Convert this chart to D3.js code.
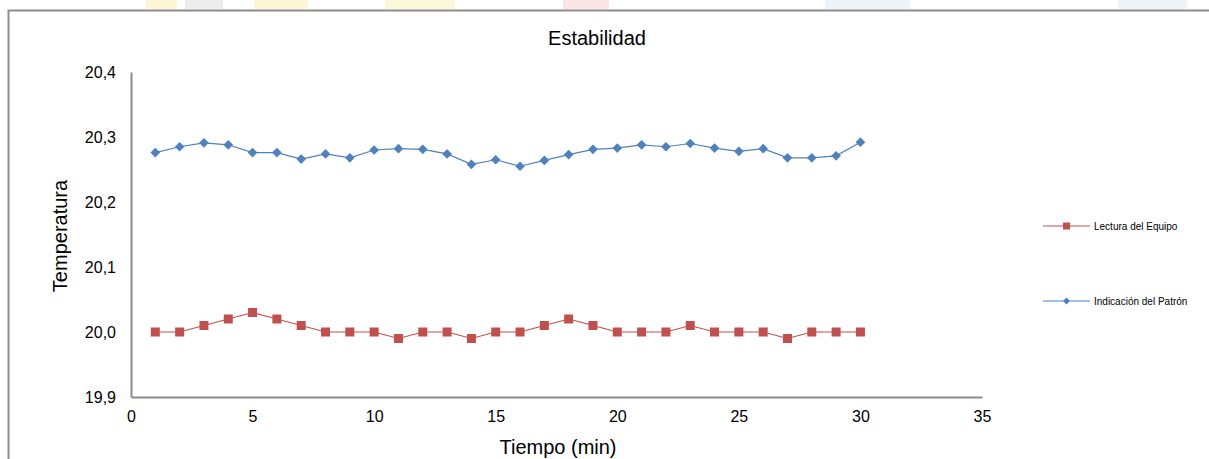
<!DOCTYPE html>
<html>
<head>
<meta charset="utf-8">
<script src="https://cdn.jsdelivr.net/npm/d3@7"></script>
<style>
  body { margin: 0; background: #fff; }
  svg { display: block; font-family: "Liberation Sans", Arial, sans-serif; }
</style>
</head>
<body>
<div id="chart"></div>
<script>
let width = 1209;
let height = 459;
let margin = ({top: 72, right: 227, bottom: 62, left: 131});

// minutes 1..30
let minutes = d3.range(1, 31);
let lectura = [20.00, 20.00, 20.01, 20.02, 20.03, 20.02, 20.01, 20.00, 20.00, 20.00,
               19.99, 20.00, 20.00, 19.99, 20.00, 20.00, 20.01, 20.02, 20.01, 20.00,
               20.00, 20.00, 20.01, 20.00, 20.00, 20.00, 19.99, 20.00, 20.00, 20.00];
let patron = [20.276, 20.285, 20.291, 20.288, 20.276, 20.276, 20.266, 20.274, 20.268, 20.280,
              20.282, 20.281, 20.274, 20.258, 20.265, 20.255, 20.264, 20.273, 20.281, 20.283,
              20.288, 20.285, 20.290, 20.283, 20.278, 20.282, 20.268, 20.268, 20.271, 20.292];
let xTicks = [0, 5, 10, 15, 20, 25, 30, 35];
let yTicks = [19.9, 20.0, 20.1, 20.2, 20.3, 20.4];
let seriesNames = ["Lectura del Equipo", "Indicación del Patrón"];

let red = "#C0504D";
let blue = "#4F81BD";

let svg = d3.select("#chart").append("svg")
  .attr("width", width)
  .attr("height", height);

// faint background watermark visible above the chart frame
let wm = [[146, 31, "#fbe9a0"], [185, 38, "#d8d8d8"], [254, 54, "#fbe9a0"], [385, 70, "#fcefb0"],
          [563, 46, "#f4c4c4"], [825, 85, "#d7e7f5"], [1118, 69, "#d7e7f5"]];
svg.append("g").selectAll("rect").data(wm).enter().append("rect")
  .attr("x", d => d[0]).attr("y", 0).attr("width", d => d[1]).attr("height", 9)
  .attr("fill", d => d[2]).attr("opacity", 0.45);

// chart frame
svg.append("path")
  .attr("d", "M8.5," + height + "V10.5H" + width)
  .attr("fill", "none").attr("stroke", "#8c8c8c").attr("stroke-width", 2);

let x = d3.scaleLinear().domain([0, 35]).range([margin.left, width - margin.right]);
let y = d3.scaleLinear().domain([19.9, 20.4]).range([height - margin.bottom, margin.top]);

// axes
let gx = svg.append("g")
  .attr("transform", "translate(0," + y(19.9) + ")")
  .call(d3.axisBottom(x).tickValues(xTicks).tickSize(0).tickPadding(14));
let gy = svg.append("g")
  .attr("transform", "translate(" + x(0) + ",0)")
  .call(d3.axisLeft(y).tickValues(yTicks).tickSize(0).tickPadding(15)
    .tickFormat(d => d3.format(".1f")(d).replace(".", ",")));
[gx, gy].forEach(function(g) {
  g.select(".domain").attr("stroke", "#8c8c8c").attr("stroke-width", 2);
  g.selectAll("text").attr("font-size", "16px").attr("fill", "#000")
    .attr("font-family", "Liberation Sans, Arial, sans-serif");
});

// lines
let line = d3.line().x((d, i) => x(minutes[i])).y(d => y(d));
svg.append("path").datum(patron)
  .attr("d", line).attr("fill", "none").attr("stroke", blue).attr("stroke-width", 1.2);
svg.append("path").datum(lectura)
  .attr("d", line).attr("fill", "none").attr("stroke", red).attr("stroke-width", 1.2);

// markers
let diamond = d3.symbol().type(d3.symbolDiamond2).size(60);
svg.append("g").selectAll("path").data(patron).enter().append("path")
  .attr("d", diamond)
  .attr("transform", (d, i) => "translate(" + x(minutes[i]) + "," + y(d) + ")")
  .attr("fill", blue);
svg.append("g").selectAll("rect").data(lectura).enter().append("rect")
  .attr("x", (d, i) => x(minutes[i]) - 4.5)
  .attr("y", d => y(d) - 4.5)
  .attr("width", 9).attr("height", 9)
  .attr("fill", red);

// legend
let legend = svg.append("g").selectAll("g").data(seriesNames).enter().append("g")
  .attr("transform", (d, i) => "translate(1043," + (226 + i * 75) + ")");
legend.append("line").attr("x1", 0).attr("x2", 47)
  .attr("stroke", (d, i) => i == 0 ? red : blue).attr("stroke-width", 1.2);
legend.filter((d, i) => i == 0).append("rect")
  .attr("x", 20).attr("y", -3.5).attr("width", 7).attr("height", 7).attr("fill", red);
legend.filter((d, i) => i == 1).append("path")
  .attr("d", d3.symbol().type(d3.symbolDiamond2).size(30))
  .attr("transform", "translate(23.5,0)").attr("fill", blue);
legend.append("text").attr("x", 51).attr("y", 3.5)
  .attr("font-size", "10px").attr("fill", "#000").text(d => d);

// titles
svg.append("text").attr("x", 597).attr("y", 45)
  .attr("text-anchor", "middle").attr("font-size", "20px").text("Estabilidad");
svg.append("text").attr("x", 558).attr("y", 454)
  .attr("text-anchor", "middle").attr("font-size", "20px").text("Tiempo (min)");
svg.append("text")
  .attr("transform", "translate(67,236) rotate(-90)")
  .attr("text-anchor", "middle").attr("font-size", "20px").text("Temperatura");
</script>
</body>
</html>
